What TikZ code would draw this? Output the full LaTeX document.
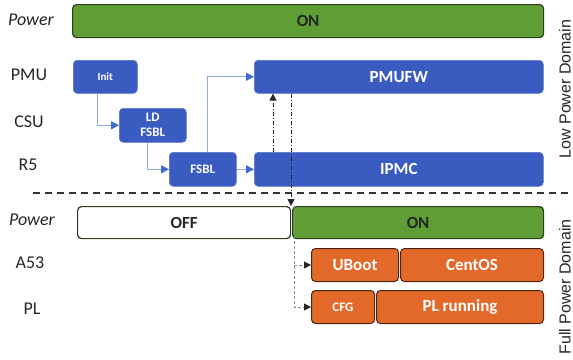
\documentclass[tikz,border=0pt]{standalone}
\usepackage{fontspec}
\setmainfont{Carlito}
\newfontfamily\sidefont{Liberation Sans}
\usetikzlibrary{arrows.meta}

\definecolor{pgreen}{HTML}{5E9E34}
\definecolor{pgreenline}{HTML}{2C3E22}
\definecolor{cblue}{HTML}{3A5CC0}
\definecolor{cblueline}{HTML}{5573CC}
\definecolor{corange}{HTML}{E2692A}
\definecolor{corangeline}{HTML}{4A2512}
\definecolor{flowline}{HTML}{8FA9E2}
\definecolor{flowtip}{HTML}{3E68D2}

\tikzset{
  bar/.style={rectangle, rounded corners=4pt, inner sep=0pt, anchor=north west,
              line width=1.2pt, font=\fontsize{17}{20}\selectfont\bfseries},
  onbar/.style={bar, fill=pgreen, draw=pgreenline, text=black!85},
  offbar/.style={bar, fill=white, draw=pgreenline, text=black!85},
  task/.style={rectangle, rounded corners=4pt, inner sep=0pt, anchor=north west,
               fill=cblue, draw=cblueline, line width=0.6pt, text=white,
               font=\fontsize{17}{20}\selectfont\bfseries},
  job/.style={rectangle, rounded corners=4pt, inner sep=0pt, anchor=north west,
              fill=corange, draw=corangeline, line width=1pt, text=white,
              font=\fontsize{17}{20}\selectfont\bfseries},
  row/.style={font=\fontsize{18}{20}\selectfont, text=black!85},
  rowit/.style={font=\fontsize{18}{20}\selectfont\itshape, text=black!85},
  sidecap/.style={font=\sidefont\fontsize{16}{18}\selectfont, text=black!85,
                  rotate=90, inner sep=0pt},
  flow/.style={draw=flowline, line width=1pt,
               -{Triangle[length=8pt,width=8pt,color=flowtip]}},
  ctrl/.style={draw=black!85, line width=0.8pt, dash pattern=on 4pt off 2pt on 1pt off 2pt,
               -{Triangle[length=7pt,width=7pt]}},
  aux/.style={draw=black!45, line width=0.8pt, dash pattern=on 3pt off 2pt,
              -{Triangle[length=7pt,width=7pt,color=black!85]}},
  border/.style={draw=black!80, line width=1.5pt, dash pattern=on 7pt off 5pt},
}

\begin{document}
\begin{tikzpicture}[x=1pt, y=-1pt]
\useasboundingbox (0,0) rectangle (573,359);

% row labels
\node[rowit] (lpow) at (31,20) {Power};
\node[row]   (lpmu) at (29,75) {PMU};
\node[row]   (lcsu) at (29,122) {CSU};
\node[row]   (lr5)  at (28,165) {R5};
\node[rowit] (fpow) at (32,220) {Power};
\node[row]   (la53) at (30,263) {A53};
\node[row]   (lpl)  at (32,309) {PL};

% low power domain
\node[onbar, minimum width=471pt, minimum height=33pt] (pon) at (72,4) {ON};
\node[task, minimum width=64pt, minimum height=33pt,
      font=\fontsize{11}{13}\selectfont\bfseries] (init) at (73,60) {Init};
\node[task, minimum width=67pt, minimum height=34pt, align=center,
      font=\fontsize{13}{15}\selectfont\bfseries] (ldfsbl) at (119,108) {LD\\FSBL};
\node[task, minimum width=67pt, minimum height=34pt,
      font=\fontsize{13}{15}\selectfont\bfseries] (fsbl) at (169,152) {FSBL};
\node[task, minimum width=289pt, minimum height=33pt] (pmufw) at (254,60) {PMUFW};
\node[task, minimum width=289pt, minimum height=34pt] (ipmc) at (254,152) {IPMC};

% full power domain
\node[offbar, minimum width=213pt, minimum height=32pt] (poff) at (77,206) {OFF};
\node[onbar, minimum width=251pt, minimum height=32pt] (pon2) at (292,206) {ON};
\node[job, minimum width=87pt, minimum height=33pt] (uboot) at (311,248) {UBoot};
\node[job, minimum width=143pt, minimum height=33pt] (centos) at (400,248) {CentOS};
\node[job, minimum width=63pt, minimum height=33pt,
      font=\fontsize{13}{15}\selectfont\bfseries] (cfg) at (311,290) {CFG};
\node[job, minimum width=167pt, minimum height=33pt] (plrun) at (376,290) {PL running};

% domain captions
\node[sidecap] (dlow)  at (565,89)  {Low Power Domain};
\node[sidecap] (dfull) at (565,287) {Full Power Domain};

% domain boundary
\coordinate (bl) at (33,193);
\coordinate (br) at (573,193);
\draw[border] (bl) -- (br);

% boot flow
\draw[flow] ([xshift=24pt]init.south west) |- (ldfsbl.west);
\draw[flow] ([xshift=28pt]ldfsbl.south west) |- (fsbl.west);
\draw[flow] ([xshift=38pt]fsbl.north west) |- (pmufw.west);
\draw[flow] (fsbl.east) -- (ipmc.west);

% control between processors and power-up of the full domain
\draw[ctrl] ([xshift=19pt]ipmc.north west) -- ([xshift=19pt]pmufw.south west);
\draw[ctrl] ([xshift=37pt]pmufw.south west) -- ([xshift=37pt]pmufw.south west |- pon2.north);
\coordinate (gtop) at ([xshift=2pt]pon2.north west);
\draw[aux] (gtop) |- (cfg.west);
\draw[aux] (gtop |- uboot.west) -- (uboot.west);
\end{tikzpicture}
\end{document}
